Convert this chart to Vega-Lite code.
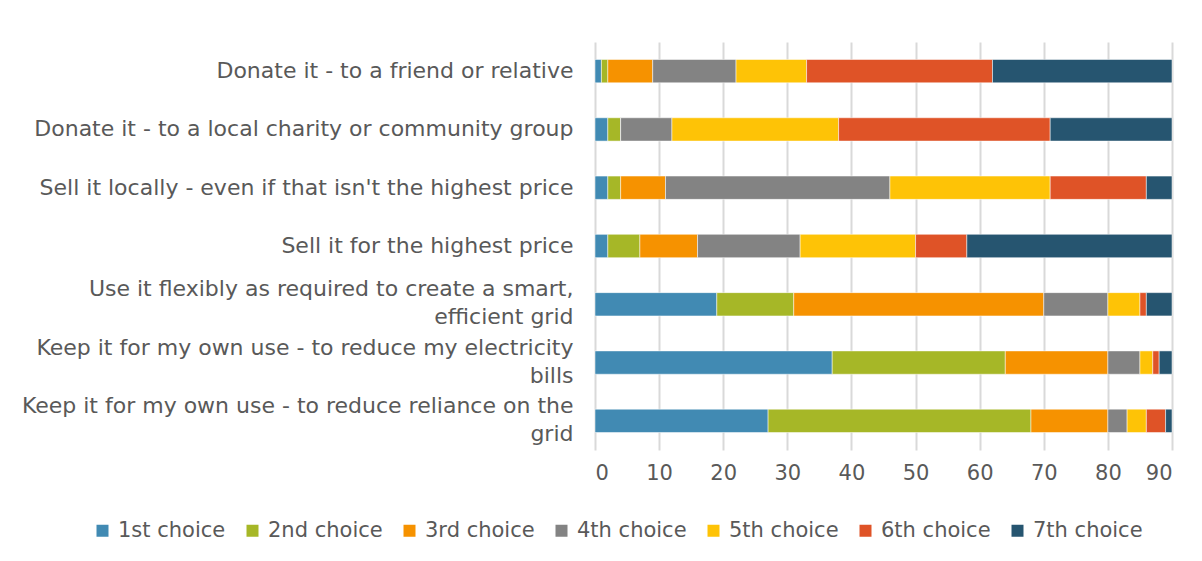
{
  "$schema": "https://vega.github.io/schema/vega-lite/v6.json",
  "autosize": "none",
  "width": 577,
  "height": 408,
  "padding": {"left": 595, "top": 42, "right": 30, "bottom": 111},
  "background": "white",
  "data": {
    "values": [
      {"item": "Donate it - to a friend or relative", "choice": "1st choice", "o": 1, "v": 1},
      {"item": "Donate it - to a friend or relative", "choice": "2nd choice", "o": 2, "v": 1},
      {"item": "Donate it - to a friend or relative", "choice": "3rd choice", "o": 3, "v": 7},
      {"item": "Donate it - to a friend or relative", "choice": "4th choice", "o": 4, "v": 13},
      {"item": "Donate it - to a friend or relative", "choice": "5th choice", "o": 5, "v": 11},
      {"item": "Donate it - to a friend or relative", "choice": "6th choice", "o": 6, "v": 29},
      {"item": "Donate it - to a friend or relative", "choice": "7th choice", "o": 7, "v": 28},
      {"item": "Donate it - to a local charity or community group", "choice": "1st choice", "o": 1, "v": 2},
      {"item": "Donate it - to a local charity or community group", "choice": "2nd choice", "o": 2, "v": 2},
      {"item": "Donate it - to a local charity or community group", "choice": "3rd choice", "o": 3, "v": 0},
      {"item": "Donate it - to a local charity or community group", "choice": "4th choice", "o": 4, "v": 8},
      {"item": "Donate it - to a local charity or community group", "choice": "5th choice", "o": 5, "v": 26},
      {"item": "Donate it - to a local charity or community group", "choice": "6th choice", "o": 6, "v": 33},
      {"item": "Donate it - to a local charity or community group", "choice": "7th choice", "o": 7, "v": 19},
      {"item": "Sell it locally - even if that isn't the highest price", "choice": "1st choice", "o": 1, "v": 2},
      {"item": "Sell it locally - even if that isn't the highest price", "choice": "2nd choice", "o": 2, "v": 2},
      {"item": "Sell it locally - even if that isn't the highest price", "choice": "3rd choice", "o": 3, "v": 7},
      {"item": "Sell it locally - even if that isn't the highest price", "choice": "4th choice", "o": 4, "v": 35},
      {"item": "Sell it locally - even if that isn't the highest price", "choice": "5th choice", "o": 5, "v": 25},
      {"item": "Sell it locally - even if that isn't the highest price", "choice": "6th choice", "o": 6, "v": 15},
      {"item": "Sell it locally - even if that isn't the highest price", "choice": "7th choice", "o": 7, "v": 4},
      {"item": "Sell it for the highest price", "choice": "1st choice", "o": 1, "v": 2},
      {"item": "Sell it for the highest price", "choice": "2nd choice", "o": 2, "v": 5},
      {"item": "Sell it for the highest price", "choice": "3rd choice", "o": 3, "v": 9},
      {"item": "Sell it for the highest price", "choice": "4th choice", "o": 4, "v": 16},
      {"item": "Sell it for the highest price", "choice": "5th choice", "o": 5, "v": 18},
      {"item": "Sell it for the highest price", "choice": "6th choice", "o": 6, "v": 8},
      {"item": "Sell it for the highest price", "choice": "7th choice", "o": 7, "v": 32},
      {"item": "Use it flexibly as required to create a smart,|efficient grid", "choice": "1st choice", "o": 1, "v": 19},
      {"item": "Use it flexibly as required to create a smart,|efficient grid", "choice": "2nd choice", "o": 2, "v": 12},
      {"item": "Use it flexibly as required to create a smart,|efficient grid", "choice": "3rd choice", "o": 3, "v": 39},
      {"item": "Use it flexibly as required to create a smart,|efficient grid", "choice": "4th choice", "o": 4, "v": 10},
      {"item": "Use it flexibly as required to create a smart,|efficient grid", "choice": "5th choice", "o": 5, "v": 5},
      {"item": "Use it flexibly as required to create a smart,|efficient grid", "choice": "6th choice", "o": 6, "v": 1},
      {"item": "Use it flexibly as required to create a smart,|efficient grid", "choice": "7th choice", "o": 7, "v": 4},
      {"item": "Keep it for my own use - to reduce my electricity|bills", "choice": "1st choice", "o": 1, "v": 37},
      {"item": "Keep it for my own use - to reduce my electricity|bills", "choice": "2nd choice", "o": 2, "v": 27},
      {"item": "Keep it for my own use - to reduce my electricity|bills", "choice": "3rd choice", "o": 3, "v": 16},
      {"item": "Keep it for my own use - to reduce my electricity|bills", "choice": "4th choice", "o": 4, "v": 5},
      {"item": "Keep it for my own use - to reduce my electricity|bills", "choice": "5th choice", "o": 5, "v": 2},
      {"item": "Keep it for my own use - to reduce my electricity|bills", "choice": "6th choice", "o": 6, "v": 1},
      {"item": "Keep it for my own use - to reduce my electricity|bills", "choice": "7th choice", "o": 7, "v": 2},
      {"item": "Keep it for my own use - to reduce reliance on the|grid", "choice": "1st choice", "o": 1, "v": 27},
      {"item": "Keep it for my own use - to reduce reliance on the|grid", "choice": "2nd choice", "o": 2, "v": 41},
      {"item": "Keep it for my own use - to reduce reliance on the|grid", "choice": "3rd choice", "o": 3, "v": 12},
      {"item": "Keep it for my own use - to reduce reliance on the|grid", "choice": "4th choice", "o": 4, "v": 3},
      {"item": "Keep it for my own use - to reduce reliance on the|grid", "choice": "5th choice", "o": 5, "v": 3},
      {"item": "Keep it for my own use - to reduce reliance on the|grid", "choice": "6th choice", "o": 6, "v": 3},
      {"item": "Keep it for my own use - to reduce reliance on the|grid", "choice": "7th choice", "o": 7, "v": 1}
    ]
  },
  "mark": {"type": "bar", "stroke": "white", "strokeWidth": 0.5},
  "encoding": {
    "y": {
      "field": "item",
      "type": "nominal",
      "sort": null,
      "scale": {"paddingInner": 0.6, "paddingOuter": 0.3},
      "axis": {
        "title": null,
        "labelExpr": "split(datum.label, '|')",
        "labelFontSize": 22,
        "labelFont": "DejaVu Sans",
        "labelColor": "#595959",
        "labelLineHeight": 28,
        "labelBaseline": {"condition": {"test": "indexof(datum.value, '|') >= 0", "value": "line-bottom"}, "value": "middle"},
        "labelPadding": 22,
        "labelLimit": 600,
        "ticks": false,
        "domain": false,
        "grid": false
      }
    },
    "x": {
      "field": "v",
      "type": "quantitative",
      "stack": "zero",
      "scale": {"domain": [0, 90], "nice": false},
      "axis": {
        "title": null,
        "values": [0, 10, 20, 30, 40, 50, 60, 70, 80, 90],
        "labelFontSize": 21,
        "labelFont": "DejaVu Sans",
        "labelColor": "#595959",
        "labelPadding": 12,
        "ticks": false,
        "domain": false,
        "grid": true,
        "gridColor": "#d9d9d9",
        "gridWidth": 2
      }
    },
    "color": {
      "field": "choice",
      "type": "nominal",
      "scale": {
        "domain": ["1st choice", "2nd choice", "3rd choice", "4th choice", "5th choice", "6th choice", "7th choice"],
        "range": ["#418AB3", "#A6B727", "#F69200", "#838383", "#FEC306", "#DF5327", "#265570"]
      },
      "legend": {
        "title": null,
        "orient": "none",
        "direction": "horizontal",
        "columns": 7,
        "legendX": -503,
        "legendY": 478,
        "symbolType": "square",
        "symbolSize": 144,
        "symbolStrokeWidth": 0,
        "labelFontSize": 21,
        "labelFont": "DejaVu Sans",
        "labelColor": "#595959",
        "columnPadding": 16,
        "labelOffset": 5
      }
    },
    "order": {"field": "o", "type": "quantitative"}
  },
  "config": {"view": {"stroke": null}}
}
